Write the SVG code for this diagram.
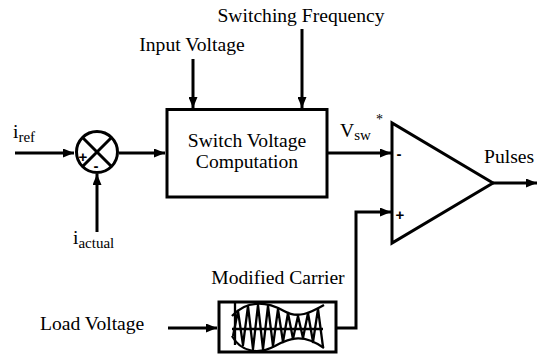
<svg xmlns="http://www.w3.org/2000/svg" width="537" height="356" viewBox="0 0 537 356">
<style>
text{font-family:'Liberation Serif','Times New Roman',Times,serif}
.t{font-size:19.6px;fill:#000}
.s{font-size:15px}
text.sg{font-family:'Liberation Sans',Arial,sans-serif;font-weight:bold;font-size:15px;fill:#000}
.ln{stroke:#000;stroke-width:3;fill:none}
.th{stroke:#000;stroke-width:2.3;fill:none;stroke-linejoin:round}
</style>
<defs>
<marker id="ah" markerUnits="userSpaceOnUse" markerWidth="11" markerHeight="9" refX="11" refY="4.5" orient="auto">
<path d="M0,0 L11,4.5 L0,9 z" fill="#000"/>
</marker>
</defs>
<rect width="537" height="356" fill="#fff"/>

<g id="connectors">
<line class="ln" x1="15" y1="153" x2="74" y2="153" marker-end="url(#ah)"/>
<line class="ln" x1="97" y1="232" x2="97" y2="174" marker-end="url(#ah)"/>
<line class="ln" x1="119" y1="153" x2="165" y2="153" marker-end="url(#ah)"/>
<line class="ln" x1="193" y1="59" x2="193" y2="108" marker-end="url(#ah)"/>
<line class="ln" x1="302" y1="29" x2="302" y2="108" marker-end="url(#ah)"/>
<line class="ln" x1="328" y1="153" x2="391" y2="153" marker-end="url(#ah)"/>
<line class="ln" x1="493" y1="183" x2="537" y2="183" marker-end="url(#ah)"/>
<line class="ln" x1="168" y1="328" x2="217" y2="328" marker-end="url(#ah)"/>
<polyline class="ln" points="337,328 356,328 356,212 391,212" marker-end="url(#ah)"/>
</g>

<g id="iref"><text class="t" x="13" y="138">i<tspan class="s" dy="4">ref</tspan></text></g>
<g id="iactual"><text class="t" x="73" y="244">i<tspan class="s" dy="4">actual</tspan></text></g>
<g id="input-voltage"><text class="t" x="192" y="51" text-anchor="middle">Input Voltage</text></g>
<g id="switching-frequency"><text class="t" x="301" y="22" text-anchor="middle">Switching Frequency</text></g>

<g id="sum">
<circle class="ln" cx="97" cy="152" r="20.5"/>
<line class="ln" x1="82.5" y1="137.5" x2="111.5" y2="166.5"/>
<line class="ln" x1="111.5" y1="137.5" x2="82.5" y2="166.5"/>
<text class="sg" x="83" y="162" text-anchor="middle">+</text>
<text class="sg" x="96" y="171" text-anchor="middle">-</text>
</g>

<g id="svc">
<rect class="ln" x="167" y="109.5" width="160" height="87.5"/>
<text class="t" x="247" y="147" text-anchor="middle">Switch Voltage</text>
<text class="t" x="247" y="168" text-anchor="middle">Computation</text>
</g>

<g id="vsw"><text class="t" x="340" y="137">V<tspan class="s" dy="3">sw</tspan></text><text class="t" x="376" y="124" style="font-size:14px">*</text></g>

<g id="comparator">
<polygon class="ln" points="392,123 392,243 493,183" stroke-linejoin="miter"/>
<text class="sg" x="399" y="159" text-anchor="middle">-</text>
<text class="sg" x="400" y="220" text-anchor="middle">+</text>
</g>

<g id="pulses"><text class="t" x="484" y="163">Pulses</text></g>

<g id="load-voltage"><text class="t" x="40" y="330">Load Voltage</text></g>

<g id="carrier">
<text class="t" x="278" y="284" text-anchor="middle">Modified Carrier</text>
<rect class="ln" x="219" y="302" width="117" height="50"/>
<line class="th" x1="235" y1="303" x2="235" y2="345"/>
<line class="th" x1="232" y1="329" x2="323" y2="329"/>
<path class="th" d="M232,316 C246,300 266,301 284,311 C298,319 310,313 324,305"/>
<path class="th" d="M232,336 C241,352 258,355 275,346 C291,337 304,334 324,348"/>
<polyline class="th" points="233,336 238,311 243,345 248,306 253,349 258,305 263,349 268,306 273,346 278,309 283,342 288,313 293,339 298,316 303,338 308,313 313,342 318,309 323,347"/>
</g>
</svg>
